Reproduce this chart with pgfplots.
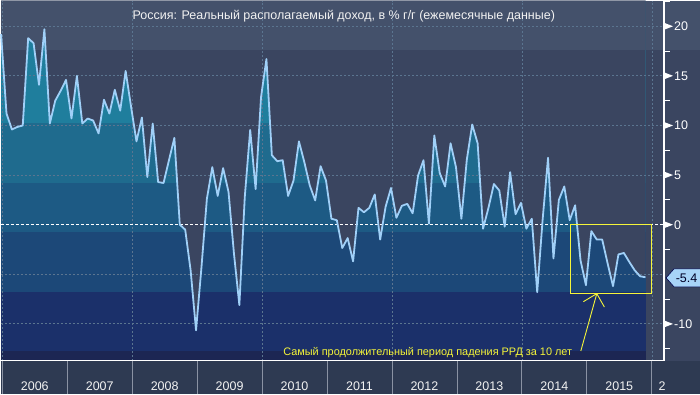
\documentclass[border=0pt]{standalone}
\usepackage{fontspec}
\setmainfont{Liberation Sans}
\usepackage{pgfplots}
\usepackage{pgfplotstable}
\pgfplotsset{compat=1.18}
\definecolor{bgmain}{HTML}{3A4560}
\definecolor{bgtitle}{HTML}{44516B}
\definecolor{bgbottom}{HTML}{2E3A52}
\definecolor{fA}{HTML}{1F7E9D}
\definecolor{fB}{HTML}{1F6B8E}
\definecolor{fC}{HTML}{1D5A84}
\definecolor{fD}{HTML}{1C4878}
\definecolor{fE}{HTML}{1B306A}
\definecolor{fF}{HTML}{1C2653}
\definecolor{gridc}{HTML}{5B7590}
\definecolor{linec}{HTML}{A0D0F8}
\definecolor{tagc}{HTML}{A8D4F8}
\definecolor{ylw}{HTML}{F5F53A}
\definecolor{sepc}{HTML}{8A92A3}
\pgfplotstableread{
i v
0 19.2
1 11.2
2 9.6
3 9.85
4 10.0
5 18.8
6 18.3
7 14.1
8 19.7
9 10.2
10 12.5
11 13.5
12 14.6
13 10.7
14 15.0
15 10.2
16 10.7
17 10.5
18 9.2
19 12.6
20 11.2
21 13.6
22 11.5
23 15.5
24 11.9
25 8.4
26 10.8
27 4.8
28 10.2
29 4.3
30 4.2
31 6.5
32 8.75
33 0.0
34 -0.5
35 -4.6
36 -10.65
37 -4.3
38 2.6
39 5.8
40 2.9
41 5.7
42 3.3
43 -2.9
44 -8.1
45 2.8
46 9.55
47 3.6
48 12.85
49 16.7
50 7.0
51 6.4
52 6.5
53 2.9
54 4.45
55 8.4
56 6.3
57 3.95
58 2.45
59 5.9
60 4.45
61 0.6
62 0.45
63 -2.35
64 -1.35
65 -3.7
66 1.7
67 1.25
68 1.7
69 3.05
70 -1.5
71 1.8
72 3.7
73 0.7
74 1.9
75 2.1
76 1.15
77 4.95
78 6.5
79 0.1
80 9.0
81 5.2
82 3.85
83 8.2
84 5.8
85 0.6
86 6.55
87 10.1
88 8.2
89 -0.4
90 1.7
91 4.1
92 3.45
93 -0.2
94 5.3
95 1.05
96 2.2
97 -0.4
98 0.6
99 -6.8
100 0.5
101 6.75
102 -3.4
103 2.5
104 3.85
105 0.45
106 1.95
107 -3.6
108 -6.1
109 -0.65
110 -1.5
111 -1.5
112 -3.9
113 -6.2
114 -3.0
115 -2.85
116 -3.75
117 -4.6
118 -5.2
119 -5.3
}\rrd
\pgfplotstableread{
i v
0 19.2
1 11.2
2 9.6
3 9.85
4 10.0
5 18.8
6 18.3
7 14.1
8 19.7
9 10.2
10 12.5
11 13.5
12 14.6
13 10.7
14 15.0
15 10.2
16 10.7
17 10.5
18 9.2
19 12.6
20 11.2
21 13.6
22 11.5
23 15.5
24 11.9
25 8.4
26 10.8
27 4.8
28 10.2
29 4.3
30 4.2
31 6.5
32 8.75
33 0.0
34 -0.5
35 -4.6
36 -10.65
37 -4.3
38 2.6
39 5.8
40 2.9
41 5.7
42 3.3
43 -2.9
44 -8.1
45 2.8
46 9.55
47 3.6
48 12.85
49 16.7
50 7.0
51 6.4
52 6.5
53 2.9
54 4.45
55 8.4
56 6.3
57 3.95
58 2.45
59 5.9
60 4.45
61 0.6
62 0.45
63 -2.35
64 -1.35
65 -3.7
66 1.7
67 1.25
68 1.7
69 3.05
70 -1.5
71 1.8
72 3.7
73 0.7
74 1.9
75 2.1
76 1.15
77 4.95
78 6.5
79 0.1
80 9.0
81 5.2
82 3.85
83 8.2
84 5.8
85 0.6
86 6.55
87 10.1
88 8.2
89 -0.4
90 1.7
91 4.1
92 3.45
93 -0.2
94 5.3
95 1.05
96 2.2
97 -0.4
98 0.6
99 -6.8
100 0.5
101 6.75
102 -3.4
103 2.5
104 3.85
105 0.45
106 1.95
107 -3.6
108 -6.1
109 -0.65
110 -1.5
111 -1.5
112 -3.9
113 -6.2
114 -3.0
115 -2.85
116 -3.75
117 -4.6
118 -5.2
119 -5.3
119 22.59
0 22.59
}\rrdtop
\begin{document}
\begin{tikzpicture}[x=1pt,y=1pt]
\fill[bgmain] (0,0) rectangle (700,360.5);
\fill[bgtitle] (0,311.5) rectangle (700,360.5);
\fill[bgbottom] (0,-33.5) rectangle (700,0);
\begin{axis}[at={(0pt,0pt)}, anchor=south west, scale only axis,
  width=664pt, height=360.5pt,
  xmin=-0.09, xmax=122.42, ymin=-13.72, ymax=22.59,
  axis line style={draw=none}, ticks=none, clip=false]
% colour bands under the series
\fill[fA] (axis cs:0,10.3) rectangle (axis cs:119,22.59);
\fill[fB] (axis cs:0,4.25) rectangle (axis cs:119,10.3);
\fill[fC] (axis cs:0,-0.73) rectangle (axis cs:119,4.25);
\fill[fD] (axis cs:0,-6.77) rectangle (axis cs:119,-0.73);
\fill[fE] (axis cs:0,-12.7) rectangle (axis cs:119,-6.77);
\fill[fF] (axis cs:0,-13.72) rectangle (axis cs:119,-12.7);
% background above the series (polygon from the data, closed along the top)
\addplot[fill=bgmain, draw=none, forget plot] table[x=i,y=v] {\rrdtop};
\begin{scope}
\clip (axis cs:-0.09,17.7) rectangle (axis cs:122.42,22.59);
\addplot[fill=bgtitle, draw=none, forget plot] table[x=i,y=v] {\rrdtop};
\end{scope}
% grid
\draw[gridc, line width=0.8pt, dash pattern=on 2pt off 2pt] (axis cs:-0.09,20) -- (axis cs:122.42,20);
\draw[gridc, line width=0.8pt, dash pattern=on 2pt off 2pt] (axis cs:-0.09,15) -- (axis cs:122.42,15);
\draw[gridc, line width=0.8pt, dash pattern=on 2pt off 2pt] (axis cs:-0.09,10) -- (axis cs:122.42,10);
\draw[gridc, line width=0.8pt, dash pattern=on 2pt off 2pt] (axis cs:-0.09,5) -- (axis cs:122.42,5);
\draw[gridc, line width=0.8pt, dash pattern=on 2pt off 2pt] (axis cs:-0.09,-5) -- (axis cs:122.42,-5);
\draw[gridc, line width=0.8pt, dash pattern=on 2pt off 2pt] (axis cs:-0.09,-10) -- (axis cs:122.42,-10);
\draw[gridc, line width=0.8pt, dash pattern=on 2pt off 2pt] (axis cs:0.22,-13.72) -- (axis cs:0.22,22.59);
\draw[gridc, line width=0.8pt, dash pattern=on 2pt off 2pt] (axis cs:24.22,-13.72) -- (axis cs:24.22,22.59);
\draw[gridc, line width=0.8pt, dash pattern=on 2pt off 2pt] (axis cs:48.22,-13.72) -- (axis cs:48.22,22.59);
\draw[gridc, line width=0.8pt, dash pattern=on 2pt off 2pt] (axis cs:72.22,-13.72) -- (axis cs:72.22,22.59);
\draw[gridc, line width=0.8pt, dash pattern=on 2pt off 2pt] (axis cs:96.22,-13.72) -- (axis cs:96.22,22.59);
\draw[gridc, line width=0.8pt, dash pattern=on 2pt off 2pt] (axis cs:120.22,-13.72) -- (axis cs:120.22,22.59);
\draw[white, line width=1pt, dash pattern=on 3pt off 2pt] (axis cs:-0.09,0) -- (axis cs:122.42,0);
\addplot[linec, line width=1.8pt, line join=round, mark=none] table[x=i,y=v] {\rrd};
\end{axis}
% annotation
\draw[ylw, line width=1.5pt] (570.3,136.5) rectangle (651.3,67.2);
\draw[ylw, line width=0.9pt] (580.7,9.8) -- (596.7,67.2);
\draw[ylw, line width=0.9pt] (583.3,59.2) -- (596.7,67.2) -- (604.3,53.8);
\node[ylw, font=\fontsize{10.9}{12}\selectfont, inner sep=0pt] at (427.5,8.5) {Самый продолжительный период падения РРД за 10 лет};
% title
\node[text=white!90!gray, font=\fontsize{12.5}{14}\selectfont, inner sep=0pt] at (343.5,344.5) {Россия: Реальный располагаемый доход, в \% г/г (ежемесячные данные)};
% axes lines
\draw[white, line width=1.2pt] (0,0) -- (664,0);
\draw[white, line width=1.2pt] (664,0) -- (664,360.5);
\foreach \yy in {359.6,310.0,260.3,210.7,161.0,111.4,61.7,12.1} {
  \draw[white, line width=1pt] (664,\yy) -- (670,\yy);
}
\foreach \yy/\lab in {334.8/20,285.2/15,235.5/10,185.9/5,136.2/0,36.9/-10} {
  \fill[white] (664,\yy+3.5) -- (673,\yy) -- (664,\yy-3.5) -- cycle;
  \node[anchor=west, text=white, font=\fontsize{12.5}{14}\selectfont, inner sep=0pt] at (674,\yy) {\lab};
}
% value tag
\begin{scope}
\clip (600,0) rectangle (700,360.5);
\filldraw[fill=tagc, draw=black!70!blue, line width=0.6pt] (666,83) -- (674,92) -- (702,92) -- (702,74) -- (674,74) -- cycle;
\end{scope}
\node[text=black!85!blue, font=\fontsize{12.5}{14}\selectfont, inner sep=0pt] at (686.5,83) {-5.4};
% year separators and labels
\foreach \k in {0,...,10} {
  \draw[sepc, line width=0.8pt] (1.7+65*\k,0) -- (1.7+65*\k,-33.5);
}
\foreach \k/\yr in {0/2006,1/2007,2/2008,3/2009,4/2010,5/2011,6/2012,7/2013,8/2014,9/2015} {
  \node[text=white!90!gray, font=\fontsize{12.5}{14}\selectfont, inner sep=0pt] at (34.2+65*\k,-25.5) {\yr};
}
\node[text=white!90!gray, font=\fontsize{12.5}{14}\selectfont, inner sep=0pt] at (662,-25.5) {2};
\end{tikzpicture}
\end{document}
